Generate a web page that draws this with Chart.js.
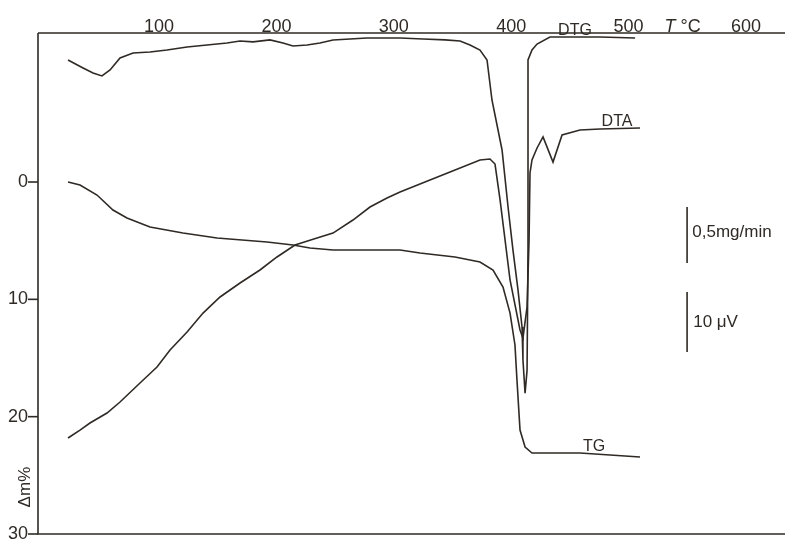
<!DOCTYPE html>
<html>
<head>
<meta charset="utf-8">
<script src="https://cdn.jsdelivr.net/npm/chart.js@4"></script>
<style>
  html, body { margin: 0; padding: 0; background: #fff; }
  #thermo { display: block; }
</style>
</head>
<body>
<canvas id="thermo" width="785" height="543"></canvas>
<script>
// temperature in °C, mass loss in Δm% (DTG / DTA drawn in the same plot units)
const tempTicks = [100, 200, 300, 400, 500, 600]
const massTicks = [0, 10, 20, 30]

const tgTemp = [22.5, 32.7, 47.2, 60.8, 72.7, 92.3, 120.4, 149.4, 192.0, 214.1, 228.6, 248.2, 305.3,
  322.3, 352.1, 373.4, 384.5, 393.0, 399.0, 403.2, 404.9, 407.5, 411.8, 417.7, 458.6, 509.7]
const tgMass = [0, 0.26, 1.11, 2.39, 3.07, 3.84, 4.35, 4.77, 5.11, 5.37, 5.63, 5.80, 5.80,
  6.05, 6.39, 6.82, 7.50, 8.95, 11.17, 13.89, 16.88, 21.14, 22.59, 23.10, 23.10, 23.44]

const dtaTemp = [22.5, 32.7, 41.2, 55.7, 66.8, 83.8, 98.3, 109.4, 123.9, 137.5, 152.0, 169.0, 186.0,
  200.5, 215.8, 234.6, 248.2, 265.2, 279.7, 294.2, 305.3, 330.8, 347.9, 373.4, 381.9, 386.2, 390.5,
  399.0, 407.5, 410.0, 413.5, 415.2, 416.0, 417.7, 422.0, 427.1, 435.6, 443.3, 458.6, 475.6, 509.7]
const dtaValue = [21.82, 21.14, 20.54, 19.69, 18.75, 17.13, 15.77, 14.32, 12.78, 11.17, 9.80, 8.61, 7.50,
  6.39, 5.37, 4.77, 4.35, 3.24, 2.13, 1.36, 0.85, -0.17, -0.85, -1.88, -1.96, -1.53, 1.53,
  8.35, 12.61, 13.30, 10.65, 4.94, -0.77, -1.88, -2.90, -3.84, -1.70, -4.01, -4.43, -4.52, -4.60]

const dtgTemp = [22.5, 35.3, 43.8, 51.4, 58.3, 66.8, 77.9, 92.3, 106.8, 123.9, 140.9, 157.9, 169.0,
  180.1, 194.5, 205.6, 214.1, 226.1, 237.1, 248.2, 262.7, 277.2, 305.3, 324.9, 343.6, 356.4, 364.9,
  373.4, 379.4, 383.6, 392.2, 397.3, 401.5, 405.8, 409.2, 410.0, 411.8, 413.5, 414.3, 414.3, 414.3,
  417.7, 422.0, 433.0, 475.6, 505.5]
const dtgValue = [-10.40, -9.72, -9.29, -9.04, -9.55, -10.57, -11.00, -11.08, -11.25, -11.51, -11.68, -11.85, -12.02,
  -11.94, -12.11, -11.85, -11.59, -11.68, -11.85, -12.11, -12.19, -12.28, -12.28, -12.19, -12.11, -12.02, -11.68,
  -11.25, -10.40, -6.99, -2.73, 2.13, 5.80, 9.21, 12.36, 15.17, 17.99, 16.03, 5.80, -2.73, -10.40,
  -11.25, -11.76, -12.36, -12.36, -12.28]

const ink = '#2f2a25'
const font = '"Liberation Sans", Arial, sans-serif'

function points(xs, ys) {
  return xs.map((x, i) => ({ x: x, y: ys[i] }))
}

function curve(label, xs, ys) {
  return {
    label: label,
    data: points(xs, ys),
    borderColor: ink,
    borderWidth: 1.6,
    pointRadius: 0,
    tension: 0,
    fill: false
  }
}

// axes, tick labels and annotations, drawn on the chart's scales
const paperAxes = {
  id: 'paperAxes',
  afterDraw(chart) {
    const ctx = chart.ctx
    const a = chart.chartArea
    const x = chart.scales.x
    const y = chart.scales.y
    const px = v => x.getPixelForValue(v)
    const py = v => y.getPixelForValue(v)

    ctx.save()
    ctx.strokeStyle = ink
    ctx.fillStyle = ink
    ctx.lineWidth = 1.6

    ctx.beginPath()
    ctx.moveTo(a.left, a.top)
    ctx.lineTo(a.right, a.top)
    ctx.moveTo(a.left, a.top)
    ctx.lineTo(a.left, a.bottom)
    ctx.lineTo(a.right, a.bottom)
    ctx.stroke()

    // left ticks
    ctx.font = '18px ' + font
    ctx.textAlign = 'right'
    ctx.textBaseline = 'middle'
    massTicks.forEach(m => {
      ctx.beginPath()
      ctx.moveTo(a.left - 10, py(m))
      ctx.lineTo(a.left, py(m))
      ctx.stroke()
      ctx.fillText(String(m), a.left - 10, py(m))
    })

    // top temperature labels
    ctx.textAlign = 'center'
    ctx.textBaseline = 'alphabetic'
    tempTicks.forEach(t => ctx.fillText(String(t), px(t), a.top - 1))
    ctx.font = 'italic 18px ' + font
    ctx.textAlign = 'right'
    ctx.fillText('T', px(540), a.top - 1)
    ctx.font = '18px ' + font
    ctx.textAlign = 'left'
    ctx.fillText(' °C', px(540), a.top - 1)

    // axis title
    ctx.save()
    ctx.translate(a.left - 8, py(26))
    ctx.rotate(-Math.PI / 2)
    ctx.textAlign = 'center'
    ctx.font = '17px ' + font
    ctx.fillText('Δm%', 0, 0)
    ctx.restore()

    // curve labels
    ctx.font = '16px ' + font
    ctx.textAlign = 'center'
    ctx.fillText('DTG', px(454.3), py(-12.5))
    ctx.fillText('DTA', px(490.1), py(-4.75))
    ctx.fillText('TG', px(470.5), py(22.95))

    // scale bars
    ctx.beginPath()
    ctx.moveTo(px(549.8), py(2.13))
    ctx.lineTo(px(549.8), py(6.9))
    ctx.moveTo(px(549.8), py(9.38))
    ctx.lineTo(px(549.8), py(14.49))
    ctx.stroke()
    ctx.textAlign = 'left'
    ctx.textBaseline = 'middle'
    ctx.font = '17px ' + font
    ctx.fillText('0,5mg/min', px(554.2), py(4.3))
    ctx.fillText('10 μV', px(555), py(11.93))

    ctx.restore()
  }
}

new Chart(document.getElementById('thermo'), {
  type: 'line',
  data: {
    datasets: [
      curve('DTG', dtgTemp, dtgValue),
      curve('DTA', dtaTemp, dtaValue),
      curve('TG', tgTemp, tgMass)
    ]
  },
  options: {
    responsive: false,
    animation: false,
    layout: { padding: { left: 38, top: 33, right: 0, bottom: 9 } },
    scales: {
      x: { type: 'linear', min: -3.07, max: 633.2, display: false },
      y: { type: 'linear', min: -12.7, max: 30, reverse: true, display: false }
    },
    plugins: {
      legend: { display: false },
      tooltip: { enabled: false }
    }
  },
  plugins: [paperAxes]
})
</script>
</body>
</html>
